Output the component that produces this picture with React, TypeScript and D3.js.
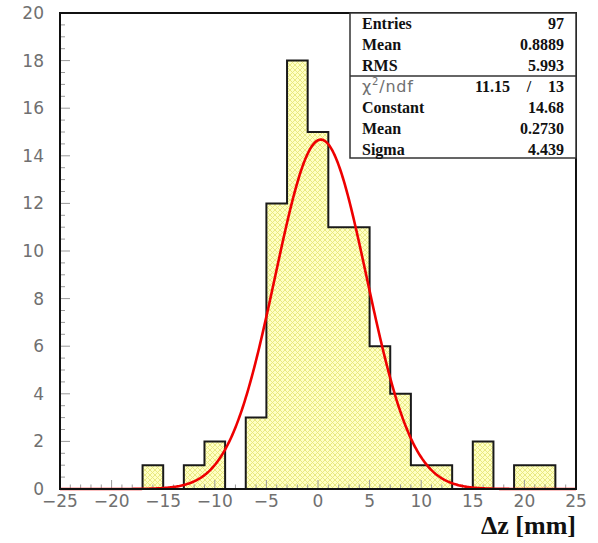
import React from "react";
import * as d3 from "d3";

// Histogram of Δz: bin edges (2 mm wide) and counts per bin
const binEdges = [-25, -23, -21, -19, -17, -15, -13, -11, -9, -7, -5, -3, -1, 1, 3, 5, 7, 9, 11, 13, 15, 17, 19, 21, 23, 25];
const binCounts = [0, 0, 0, 0, 1, 0, 1, 2, 0, 3, 12, 18, 15, 11, 11, 6, 4, 1, 1, 0, 2, 0, 1, 1, 0];

// Gaussian fit parameters
const fitConstant = 14.68;
const fitMean = 0.273;
const fitSigma = 4.439;

// Statistics box rows
const statLabels = ["Entries", "Mean", "RMS"];
const statValues = ["97", "0.8889", "5.993"];
const chiValue = "11.15";
const ndfValue = "13";
const fitLabels = ["Constant", "Mean", "Sigma"];
const fitValues = ["14.68", "0.2730", "4.439"];

const xTicks = [-25, -20, -15, -10, -5, 0, 5, 10, 15, 20, 25];
const yTicks = [0, 2, 4, 6, 8, 10, 12, 14, 16, 18, 20];

const W = 598;
const H = 543;
const L = 60, R = 576, T = 13, B = 489;

export default function App() {
  const x = d3.scaleLinear().domain([-25, 25]).range([L, R]);
  const y = d3.scaleLinear().domain([0, 20]).range([B, T]);

  // Step outline of the histogram
  const pts: [number, number][] = [[x(binEdges[0]), y(0)]];
  binCounts.forEach((c, i) => {
    pts.push([x(binEdges[i]), y(c)]);
    pts.push([x(binEdges[i + 1]), y(c)]);
  });
  pts.push([x(binEdges[binEdges.length - 1]), y(0)]);
  const stepPath = d3.line()(pts) as string;
  const fillPath = stepPath + "Z";

  const gauss = (v: number) => fitConstant * Math.exp(-0.5 * ((v - fitMean) / fitSigma) ** 2);
  const fitPts = d3.range(-25, 25.001, 0.1).map((v) => [x(v), y(gauss(v))] as [number, number]);
  const fitPath = d3.line()(fitPts) as string;

  const xMinor = d3.range(-25, 25.001, 1).filter((v) => Math.abs(v % 5) > 1e-6);
  const yMinor = d3.range(0, 20.001, 0.5).filter((v) => Math.abs(v % 2) > 1e-6);

  const tickFont = "'DejaVu Sans', 'Liberation Sans', sans-serif";
  const serif = "'Liberation Serif', 'DejaVu Serif', serif";

  const boxL = 350, boxR = 576, boxT = 13, boxB = 158, boxDiv = 76;
  const rowY = [29, 50, 71];
  const fitRowY = [113, 134, 155];
  const textL = 362, textR = 564;

  return (
    <div style={{ position: "absolute", left: 0, top: 0 }}>
      <svg width={W} height={H} viewBox={`0 0 ${W} ${H}`} style={{ display: "block", background: "#fff" }}>
        <defs>
          <pattern id="hatch" width="5" height="5" patternUnits="userSpaceOnUse">
            <rect width="5" height="5" fill="#ffffc4" />
            <path d="M0,0 L5,5 M5,0 L0,5" stroke="#e6e67a" strokeWidth="0.9" />
          </pattern>
        </defs>

        <path d={fillPath} fill="url(#hatch)" stroke="none" />

        {/* axis ticks */}
        <g stroke="#9a9a9a" strokeWidth={1}>
          {xTicks.map((v) => (
            <line key={"xm" + v} x1={x(v)} x2={x(v)} y1={B} y2={B - 9} />
          ))}
          {xMinor.map((v) => (
            <line key={"xn" + v} x1={x(v)} x2={x(v)} y1={B} y2={B - 4.5} />
          ))}
          {yTicks.map((v) => (
            <line key={"ym" + v} x1={L} x2={L + 10} y1={y(v)} y2={y(v)} />
          ))}
          {yMinor.map((v) => (
            <line key={"yn" + v} x1={L} x2={L + 5} y1={y(v)} y2={y(v)} />
          ))}
        </g>

        <path d={stepPath} fill="none" stroke="#1a1a1a" strokeWidth={2} />
        <path d={fitPath} fill="none" stroke="#ee0000" strokeWidth={2.6} />

        <rect x={L} y={T} width={R - L} height={B - T} fill="none" stroke="#111" strokeWidth={2} />

        {/* tick labels */}
        <g fontFamily={tickFont} fontSize={17} fill="#707070">
          {xTicks.map((v) => (
            <text key={"xl" + v} x={x(v)} y={507} textAnchor="middle">
              {v < 0 ? "\u2212" + Math.abs(v) : String(v)}
            </text>
          ))}
          {yTicks.map((v) => (
            <text key={"yl" + v} x={44} y={y(v) + 6} textAnchor="end">
              {v}
            </text>
          ))}
        </g>

        <text x={576} y={534} textAnchor="end" fontFamily={serif} fontWeight="bold" fontSize={26} fill="#111">
          Δz [mm]
        </text>

        {/* statistics box */}
        <rect x={boxL} y={boxT} width={boxR - boxL} height={boxB - boxT} fill="#fff" stroke="#333" strokeWidth={1.5} />
        <line x1={boxL} x2={boxR} y1={boxDiv} y2={boxDiv} stroke="#333" strokeWidth={1.5} />
        <g fontFamily={serif} fontWeight="bold" fontSize={16} fill="#111">
          {statLabels.map((s, i) => (
            <text key={"sl" + i} x={textL} y={rowY[i]}>{s}</text>
          ))}
          {statValues.map((s, i) => (
            <text key={"sv" + i} x={textR} y={rowY[i]} textAnchor="end">{s}</text>
          ))}
          <text x={510} y={92} textAnchor="end">{chiValue}</text>
          <text x={529} y={92} textAnchor="middle">/</text>
          <text x={textR} y={92} textAnchor="end">{ndfValue}</text>
          {fitLabels.map((s, i) => (
            <text key={"fl" + i} x={textL} y={fitRowY[i]}>{s}</text>
          ))}
          {fitValues.map((s, i) => (
            <text key={"fv" + i} x={textR} y={fitRowY[i]} textAnchor="end">{s}</text>
          ))}
        </g>
        <text x={textL} y={92} fontFamily={tickFont} fontSize={16} fill="#707070" letterSpacing={0.8}>
          χ<tspan fontSize={10} dy={-7}>2</tspan>
          <tspan dy={7}>/ndf</tspan>
        </text>
      </svg>
    </div>
  );
}
